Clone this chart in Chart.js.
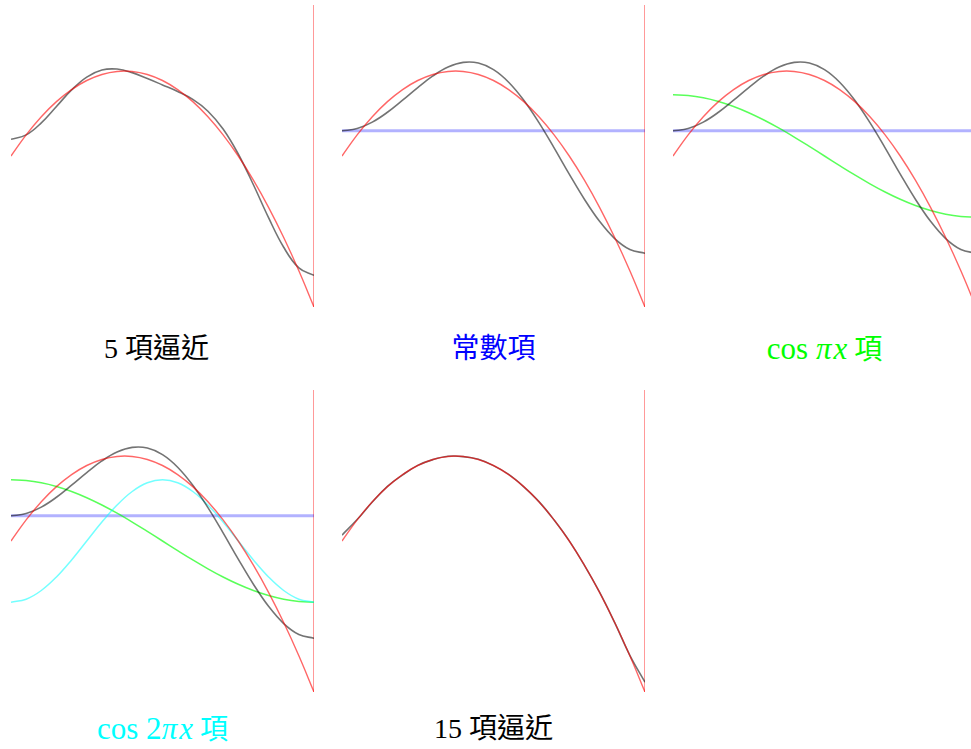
<!DOCTYPE html>
<html>
<head>
<meta charset="utf-8">
<script src="https://cdn.jsdelivr.net/npm/chart.js@4"></script>
<style>
html, body { margin: 0; padding: 0; background: #fff; overflow: hidden; }
body { width: 971px; height: 749px; position: relative; }
canvas { position: absolute; }
.cap {
    position: absolute; width: 303px; text-align: center; white-space: nowrap;
    font-family: "Liberation Serif", "Noto Sans CJK TC", serif;
    font-size: 28px; line-height: 40px;
}
.cap .m { font-family: "Liberation Serif", "DejaVu Serif", serif; font-size: 31px; }
.cap .m i { font-style: italic; margin-left: 2px; }
</style>
</head>
<body>
<canvas id="c1" width="311" height="310" style="left:7px;top:1px"></canvas>
<canvas id="c2" width="311" height="310" style="left:338px;top:1px"></canvas>
<canvas id="c3" width="311" height="310" style="left:669px;top:1px"></canvas>
<canvas id="c4" width="311" height="310" style="left:7px;top:386px"></canvas>
<canvas id="c5" width="311" height="310" style="left:338px;top:386px"></canvas>

<div class="cap" style="left:5px;top:329px;color:#000">5 項逼近</div>
<div class="cap" style="left:342px;top:329px;color:#0000ff">常數項</div>
<div class="cap" style="left:673px;top:329px;color:#00ff00"><span class="m">cos <i style="margin-left:0">π</i><i>x</i></span> 項</div>
<div class="cap" style="left:11px;top:709px;color:#00ffff"><span class="m">cos 2<i style="margin-left:0">π</i><i>x</i></span> 項</div>
<div class="cap" style="left:342px;top:709px;color:#000">15 項逼近</div>

<script>
// x positions on [0, 1]
var tValues = [0, 0.05, 0.1, 0.15, 0.2, 0.25, 0.3, 0.35, 0.4, 0.45, 0.5,
               0.55, 0.6, 0.65, 0.7, 0.75, 0.8, 0.85, 0.9, 0.95, 1];

// target function (red)
var target = [0, 0.14, 0.26, 0.36, 0.44, 0.50, 0.54, 0.56, 0.56, 0.54, 0.50,
              0.44, 0.36, 0.26, 0.14, 0, -0.16, -0.34, -0.54, -0.76, -1];

// constant term (blue)
var constX = [0, 1];
var constTerm = [0.1667, 0.1667];

// cos(pi x) term (green)
var cos1Term = [0.4053, 0.4003, 0.3855, 0.3611, 0.3279, 0.2866, 0.2382, 0.1840, 0.1252, 0.0634, 0,
                -0.0634, -0.1252, -0.1840, -0.2382, -0.2866, -0.3279, -0.3611, -0.3855, -0.4003, -0.4053];

// cos(2 pi x) term (cyan)
var cos2Term = [-0.4053, -0.3855, -0.3279, -0.2382, -0.1252, 0, 0.1252, 0.2382, 0.3279, 0.3855, 0.4053,
                0.3855, 0.3279, 0.2382, 0.1252, 0, -0.1252, -0.2382, -0.3279, -0.3855, -0.4053];

// partial sums (black)
var approx3 = [0.1667, 0.1815, 0.2243, 0.2896, 0.3694, 0.4533, 0.5301, 0.5889, 0.6198, 0.6156, 0.5720,
               0.4888, 0.3694, 0.2209, 0.0537, -0.1199, -0.2864, -0.4326, -0.5467, -0.6191, -0.6439];
var approx5 = [0.1104, 0.1396, 0.2195, 0.3279, 0.4375, 0.5228, 0.5693, 0.5757, 0.5521, 0.5132, 0.4707,
               0.4272, 0.3745, 0.2967, 0.1785, 0.0132, -0.1905, -0.4083, -0.6045, -0.7412, -0.7902];
var approx15 = [0.039, 0.142, 0.258, 0.362, 0.438, 0.501, 0.539, 0.561, 0.559, 0.541, 0.499,
                0.441, 0.359, 0.261, 0.139, 0.001, -0.161, -0.339, -0.541, -0.757, -0.935];

// jump at the right end (periodic extension)
var edgeX = [1, 1];
var edgeY = [-1, 1];

function pts(xs, ys) {
    return ys.map(function (v, i) { return { x: xs[i], y: v }; });
}

function line(xs, ys, color, width) {
    return {
        data: pts(xs, ys),
        borderColor: color,
        borderWidth: width,
        pointRadius: 0,
        fill: false,
        tension: 0.4
    };
}

var RED = 'rgba(255,0,0,0.6)';
var BLACK = 'rgba(0,0,0,0.55)';
var BLUE = 'rgba(0,0,255,0.3)';
var GREEN = 'rgba(0,255,0,0.65)';
var CYAN = 'rgba(0,255,255,0.55)';
var EDGE = 'rgba(255,0,0,0.5)';

function makePanel(id, datasets) {
    new Chart(document.getElementById(id), {
        type: 'line',
        data: { datasets: datasets },
        options: {
            responsive: false,
            animation: false,
            events: [],
            layout: { padding: 4 },
            plugins: { legend: { display: false }, tooltip: { enabled: false } },
            scales: {
                x: { type: 'linear', min: 0, max: 1, display: false },
                y: { type: 'linear', min: -1, max: 1, display: false }
            }
        }
    });
}

makePanel('c1', [
    line(tValues, target, RED, 1.4),
    line(tValues, approx5, BLACK, 1.6),
    line(edgeX, edgeY, EDGE, 1.6)
]);

makePanel('c2', [
    line(tValues, target, RED, 1.4),
    line(tValues, approx3, BLACK, 1.6),
    line(constX, constTerm, BLUE, 3),
    line(edgeX, edgeY, EDGE, 1.6)
]);

makePanel('c3', [
    line(tValues, target, RED, 1.4),
    line(tValues, approx3, BLACK, 1.6),
    line(tValues, cos1Term, GREEN, 1.5),
    line(constX, constTerm, BLUE, 3),
    line(edgeX, edgeY, EDGE, 1.6)
]);

makePanel('c4', [
    line(tValues, target, RED, 1.4),
    line(tValues, approx3, BLACK, 1.6),
    line(tValues, cos2Term, CYAN, 1.5),
    line(tValues, cos1Term, GREEN, 1.5),
    line(constX, constTerm, BLUE, 3),
    line(edgeX, edgeY, EDGE, 1.6)
]);

makePanel('c5', [
    line(tValues, target, RED, 1.4),
    line(tValues, approx15, BLACK, 1.6),
    line(edgeX, edgeY, EDGE, 1.6)
]);
</script>
</body>
</html>
